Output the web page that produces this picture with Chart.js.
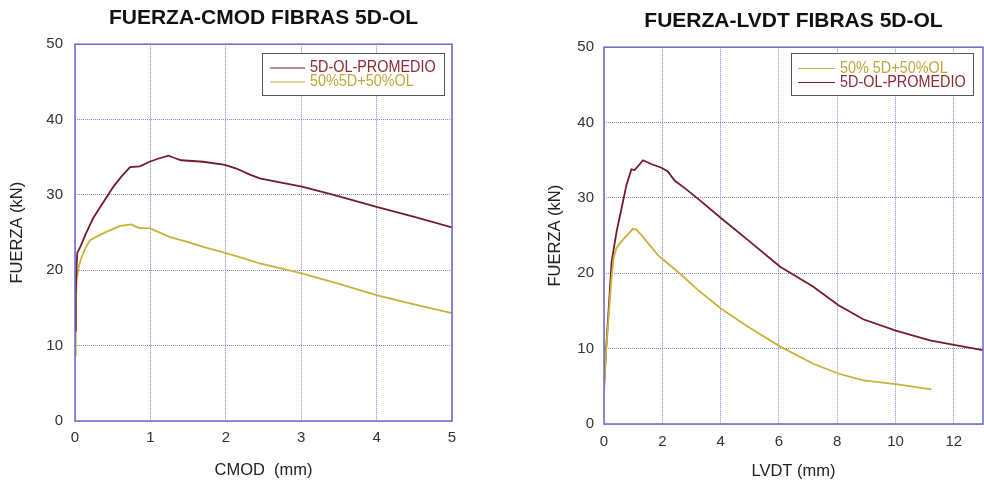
<!DOCTYPE html>
<html><head><meta charset="utf-8">
<script src="https://cdn.jsdelivr.net/npm/chart.js@4.4.1/dist/chart.umd.min.js"></script>
<style>
html,body{margin:0;padding:0;background:#fff;}
#wrap{position:relative;width:984px;height:481px;overflow:hidden;}
canvas{position:absolute;top:0;}
</style></head><body>
<div id="wrap">
<canvas id="c1" width="492" height="481" style="left:0"></canvas>
<canvas id="c2" width="492" height="481" style="left:492px"></canvas>
</div>
<script>
// ---------- DATA ----------
// Left chart: FUERZA vs CMOD
const cmodPromX = [0, 0.01, 0.02, 0.03, 0.07, 0.15, 0.24, 0.38, 0.51, 0.62, 0.73, 0.86, 0.99, 1.1, 1.24, 1.32, 1.41, 1.7, 1.99, 2.14, 2.32, 2.45, 2.7, 3.01, 3.43, 4.0, 4.5, 5.0];
const cmodPromY = [12.0, 17.0, 20.3, 22.3, 23.1, 25.0, 26.9, 29.1, 31.1, 32.5, 33.7, 33.8, 34.4, 34.8, 35.2, 34.9, 34.6, 34.4, 34.0, 33.5, 32.7, 32.2, 31.7, 31.1, 30.0, 28.4, 27.1, 25.7];
const cmodMixX = [0, 0.01, 0.02, 0.05, 0.09, 0.14, 0.2, 0.33, 0.46, 0.6, 0.75, 0.8, 0.86, 0.99, 1.26, 1.48, 1.7, 1.99, 2.23, 2.45, 3.01, 3.5, 4.0, 4.44, 5.0];
const cmodMixY = [8.7, 14.0, 18.7, 20.5, 21.8, 23.0, 24.0, 24.7, 25.3, 25.9, 26.1, 25.8, 25.6, 25.6, 24.4, 23.8, 23.1, 22.3, 21.6, 20.9, 19.6, 18.2, 16.7, 15.6, 14.3];
// Right chart: FUERZA vs LVDT
const lvdtPromX = [0, 0.07, 0.18, 0.26, 0.43, 0.59, 0.77, 0.94, 1.05, 1.34, 1.62, 1.97, 2.19, 2.42, 2.77, 3.22, 4.02, 4.94, 6.03, 7.18, 8.03, 8.89, 10.01, 11.18, 12.0, 13.0];
const lvdtPromY = [4.7, 9.8, 16.4, 21.5, 25.5, 28.4, 31.7, 33.8, 33.7, 35.0, 34.5, 34.0, 33.5, 32.3, 31.3, 29.9, 27.3, 24.4, 20.9, 18.2, 15.8, 13.9, 12.4, 11.1, 10.5, 9.8];
const lvdtMixX = [0, 0.07, 0.15, 0.26, 0.33, 0.42, 0.59, 0.78, 0.99, 1.11, 1.28, 1.51, 1.85, 2.19, 2.65, 3.22, 4.02, 4.94, 6.03, 7.18, 8.03, 8.89, 10.01, 11.23];
const lvdtMixY = [4.7, 9.5, 13.8, 19.5, 22.0, 23.3, 24.2, 25.0, 25.9, 25.8, 25.1, 24.0, 22.4, 21.3, 19.8, 17.8, 15.3, 12.9, 10.3, 8.0, 6.7, 5.8, 5.3, 4.6];

const yTicks = [0, 10, 20, 30, 40, 50];
const cmodTicks = [0, 1, 2, 3, 4, 5];
const lvdtTicks = [0, 2, 4, 6, 8, 10, 12];

const labelsLeft = ['5D-OL-PROMEDIO', '50%5D+50%OL'];
const labelsRight = ['50% 5D+50%OL', '5D-OL-PROMEDIO'];
const titles = ['FUERZA-CMOD FIBRAS 5D-OL', 'FUERZA-LVDT FIBRAS 5D-OL'];
const axisTitles = { y: 'FUERZA (kN)', cmod: 'CMOD  (mm)', lvdt: 'LVDT (mm)' };

// ---------- STYLE ----------
const RED = '#761a2a', RED_TXT = '#8a2a36';
const YEL = '#c8b23a', YEL_TXT = '#c0a63c';
const GRID = '#8686d8', FRAME = '#6a6ac6';
const FONT = "'Liberation Sans', Arial, sans-serif";
Chart.defaults.font.family = FONT;

const pts = (xs, ys) => xs.map((x, i) => ({ x, y: ys[i] }));

const framePlugin = {
  id: 'frameLegend',
  afterDraw(chart, args, o) {
    const a = chart.chartArea, ctx = chart.ctx;
    ctx.save();
    ctx.strokeStyle = o.frameColor; ctx.lineWidth = o.frameWidth;
    ctx.strokeRect(a.left, a.top, a.right - a.left, a.bottom - a.top);
    const L = o.legend;
    ctx.fillStyle = '#fff';
    ctx.fillRect(L.x, L.y, L.w, L.h);
    ctx.strokeStyle = '#555'; ctx.lineWidth = 1;
    ctx.strokeRect(L.x + 0.5, L.y + 0.5, L.w, L.h);
    L.order.forEach((di, i) => {
      const ds = chart.data.datasets[di];
      const y = L.rowY[i];
      ctx.strokeStyle = ds.borderColor; ctx.lineWidth = 1.2;
      ctx.beginPath(); ctx.moveTo(L.lineX0, y); ctx.lineTo(L.lineX1, y); ctx.stroke();
      ctx.save();
      ctx.translate(L.textX, y);
      ctx.scale(L.squeeze, 1);
      ctx.fillStyle = ds.textColor;
      ctx.font = L.font;
      ctx.textBaseline = 'middle'; ctx.textAlign = 'left';
      ctx.fillText(ds.label, 0, 0);
      ctx.restore();
    });
    ctx.restore();
  }
};

function makeChart(id, c) {
  return new Chart(document.getElementById(id), {
    type: 'scatter',
    data: { datasets: c.datasets },
    plugins: [framePlugin],
    options: {
      responsive: false,
      animation: false,
      layout: { padding: { left: 0, right: c.padRight, top: 0, bottom: 0 } },
      elements: { point: { radius: 0 }, line: { borderWidth: 1.8, tension: 0 } },
      plugins: {
        legend: { display: false },
        tooltip: { enabled: false },
        title: {
          display: true, text: c.title, fullSize: false, color: '#111',
          font: { size: 21, weight: 'bold' },
          padding: { top: c.titleTop, bottom: 13 }
        },
        frameLegend: { frameColor: FRAME, frameWidth: 1.5, legend: c.legend }
      },
      scales: {
        x: {
          type: 'linear', min: 0, max: c.xMax,
          afterBuildTicks: s => { s.ticks = c.xTicks.map(v => ({ value: v })); },
          afterFit: s => { s.height = c.xHeight; },
          ticks: { color: '#333', font: { size: 15 }, padding: c.xTickPad },
          grid: { color: GRID, lineWidth: 1, drawTicks: false },
          border: { display: false, dash: [1, 1] },
          title: { display: true, text: c.xTitle, color: '#222', font: { size: 16.5 }, padding: { top: 0, bottom: c.xTitlePad } }
        },
        y: {
          type: 'linear', min: 0, max: 50,
          afterBuildTicks: s => { s.ticks = yTicks.map(v => ({ value: v })); },
          afterFit: s => { s.width = c.yWidth; },
          ticks: { color: '#333', font: { size: 15 }, padding: c.yTickPad },
          grid: { color: GRID, lineWidth: 1, drawTicks: false },
          border: { display: false, dash: [1, 1] },
          title: { display: true, text: axisTitles.y, color: '#222', font: { size: 16.5 }, padding: { top: c.yTitlePad, bottom: 0 } }
        }
      }
    }
  });
}

makeChart('c1', {
  title: titles[0], titleTop: 6, padRight: 40,
  xMax: 5, xTicks: cmodTicks, xHeight: 60, xTickPad: 8, xTitle: axisTitles.cmod, xTitlePad: 1,
  yWidth: 75, yTickPad: 12, yTitlePad: 8,
  datasets: [
    { label: labelsLeft[0], data: pts(cmodPromX, cmodPromY), showLine: true, borderColor: RED, textColor: RED_TXT },
    { label: labelsLeft[1], data: pts(cmodMixX, cmodMixY), showLine: true, borderColor: YEL, textColor: YEL_TXT }
  ],
  legend: { x: 262, y: 53, w: 182, h: 42, lineX0: 270, lineX1: 305, textX: 310, rowY: [68, 82], order: [0, 1], font: '16px ' + FONT, squeeze: 0.9 }
});

makeChart('c2', {
  title: titles[1], titleTop: 9, padRight: 1,
  xMax: 13, xTicks: lvdtTicks, xHeight: 57, xTickPad: 9, xTitle: axisTitles.lvdt, xTitlePad: 0,
  yWidth: 112, yTickPad: 10, yTitlePad: 54,
  datasets: [
    { label: labelsRight[0], data: pts(lvdtMixX, lvdtMixY), showLine: true, borderColor: YEL, textColor: YEL_TXT },
    { label: labelsRight[1], data: pts(lvdtPromX, lvdtPromY), showLine: true, borderColor: RED, textColor: RED_TXT }
  ],
  legend: { x: 299, y: 53, w: 182, h: 42, lineX0: 306, lineX1: 343, textX: 348, rowY: [68.5, 82.5], order: [0, 1], font: '16px ' + FONT, squeeze: 0.9 }
});
</script>
</body></html>
